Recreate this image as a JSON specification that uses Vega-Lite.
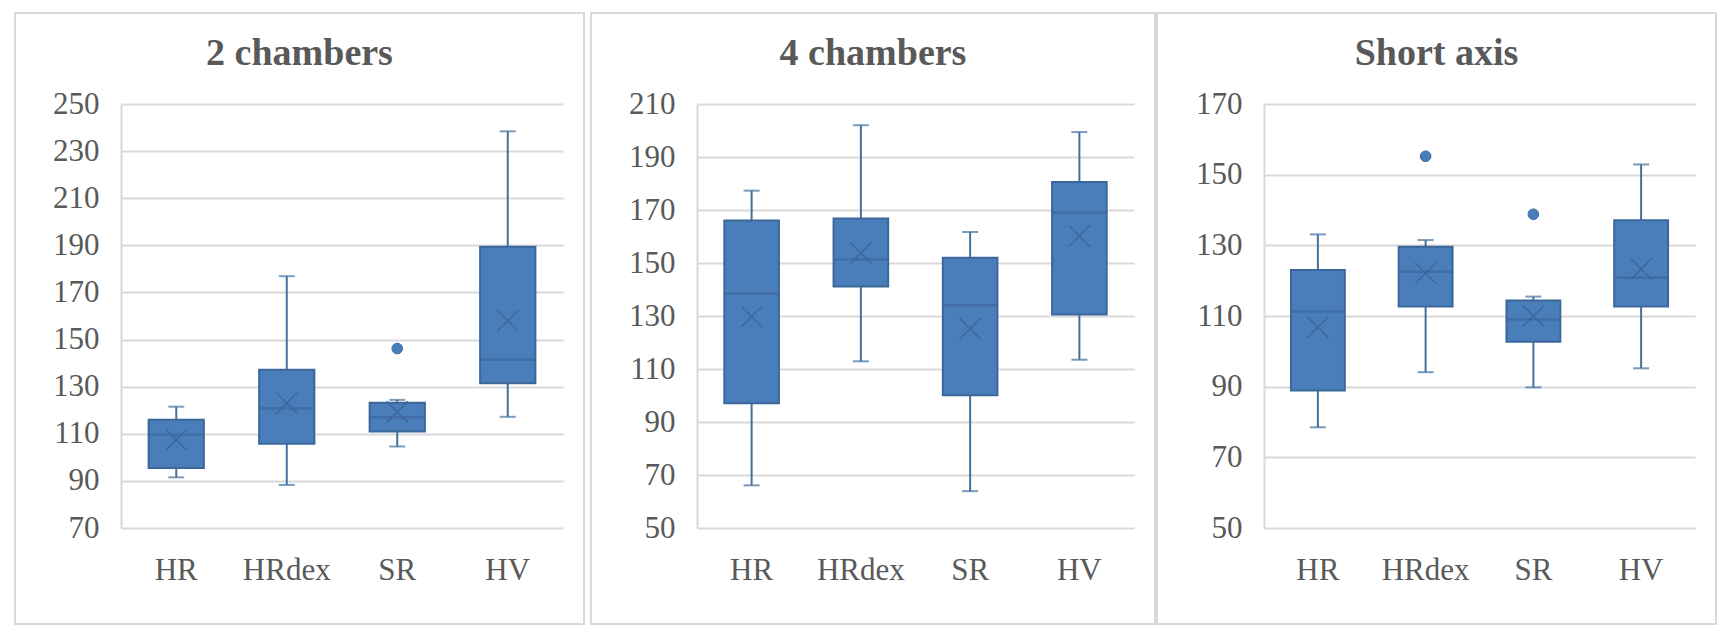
{
  "$schema": "https://vega.github.io/schema/vega-lite/v6.json",
  "background": "white",
  "padding": {"left": 14, "top": 12, "right": 0, "bottom": 0},
  "autosize": {"type": "pad"},
  "config": {
    "view": {"stroke": "#d9d9d9", "strokeWidth": 2},
    "font": "Liberation Serif",
    "title": {"font": "Liberation Serif", "fontSize": 38, "fontWeight": "bold", "color": "#595959", "anchor": "middle", "frame": "group", "offset": -60},
    "axis": {"labelFont": "Liberation Serif", "labelFontSize": 31, "labelColor": "#595959", "ticks": false, "labelBound": false, "labelOverlap": false},
    "axisY": {"domain": true, "domainColor": "#d9d9d9", "domainWidth": 2, "grid": true, "gridColor": "#d9d9d9", "gridWidth": 2, "labelPadding": 22},
    "axisX": {"domain": false, "grid": false, "labelAngle": 0, "labelPadding": 27}
  },
  "datasets": {
    "stats": [
      {"panel": "2 chambers", "group": "HR", "lo": 91.5, "q1": 95.5, "med": 109.6, "q3": 116.0, "hi": 121.5, "mean": 107.5, "outlier": null},
      {"panel": "2 chambers", "group": "HRdex", "lo": 88.3, "q1": 105.8, "med": 120.8, "q3": 137.2, "hi": 176.9, "mean": 123.0, "outlier": null},
      {"panel": "2 chambers", "group": "SR", "lo": 104.6, "q1": 111.0, "med": 117.0, "q3": 123.2, "hi": 124.4, "mean": 119.3, "outlier": 146.2},
      {"panel": "2 chambers", "group": "HV", "lo": 117.2, "q1": 131.5, "med": 141.4, "q3": 189.4, "hi": 238.4, "mean": 158.0, "outlier": null},
      {"panel": "4 chambers", "group": "HR", "lo": 66.1, "q1": 97.1, "med": 138.4, "q3": 166.0, "hi": 177.3, "mean": 129.8, "outlier": null},
      {"panel": "4 chambers", "group": "HRdex", "lo": 112.9, "q1": 141.1, "med": 151.3, "q3": 166.8, "hi": 202.0, "mean": 153.8, "outlier": null},
      {"panel": "4 chambers", "group": "SR", "lo": 63.9, "q1": 100.1, "med": 134.1, "q3": 152.0, "hi": 161.7, "mean": 125.2, "outlier": null},
      {"panel": "4 chambers", "group": "HV", "lo": 113.5, "q1": 130.6, "med": 169.0, "q3": 180.6, "hi": 199.4, "mean": 160.2, "outlier": null},
      {"panel": "Short axis", "group": "HR", "lo": 78.5, "q1": 88.9, "med": 111.3, "q3": 123.0, "hi": 133.1, "mean": 106.8, "outlier": null},
      {"panel": "Short axis", "group": "HRdex", "lo": 94.1, "q1": 112.7, "med": 122.5, "q3": 129.6, "hi": 131.5, "mean": 122.1, "outlier": 155.2},
      {"panel": "Short axis", "group": "SR", "lo": 89.8, "q1": 102.7, "med": 109.0, "q3": 114.4, "hi": 115.5, "mean": 110.0, "outlier": 138.8},
      {"panel": "Short axis", "group": "HV", "lo": 95.2, "q1": 112.7, "med": 120.8, "q3": 137.1, "hi": 152.9, "mean": 123.3, "outlier": null}
    ]
  },
  "spacing": 5,
  "hconcat": [
    {
      "width": 569,
      "height": 611,
      "title": "2 chambers",
      "data": {"name": "stats"},
      "transform": [{"filter": "datum.panel === '2 chambers'"}],
      "encoding": {
        "x": {"field": "group", "type": "nominal", "sort": ["HR", "HRdex", "SR", "HV"], "scale": {"range": [106, 548], "paddingInner": 0, "paddingOuter": 0}, "axis": {"offset": -96, "title": null}}
      },
      "layer": [
        {"mark": {"type": "rule", "color": "#41719c", "strokeWidth": 2},
         "encoding": {"y": {"field": "lo", "type": "quantitative", "scale": {"domain": [70, 250], "range": [515, 91], "nice": false, "zero": false}, "axis": {"offset": -106, "title": null, "values": [70, 90, 110, 130, 150, 170, 190, 210, 230, 250]}}, "y2": {"field": "hi"}}},
        {"mark": {"type": "tick", "color": "#41719c", "size": 16, "thickness": 2}, "encoding": {"y": {"field": "lo", "type": "quantitative", "axis": {"offset": -106, "title": null, "values": [70, 90, 110, 130, 150, 170, 190, 210, 230, 250]}}}},
        {"mark": {"type": "tick", "color": "#41719c", "size": 16, "thickness": 2}, "encoding": {"y": {"field": "hi", "type": "quantitative", "axis": {"offset": -106, "title": null, "values": [70, 90, 110, 130, 150, 170, 190, 210, 230, 250]}}}},
        {"mark": {"type": "bar", "fill": "#4a7ebb", "stroke": "#3c679b", "strokeWidth": 2, "width": {"band": 0.5}}, "encoding": {"y": {"field": "q1", "type": "quantitative", "axis": {"offset": -106, "title": null, "values": [70, 90, 110, 130, 150, 170, 190, 210, 230, 250]}}, "y2": {"field": "q3"}}},
        {"mark": {"type": "tick", "color": "#3c679b", "size": 55, "thickness": 2.5}, "encoding": {"y": {"field": "med", "type": "quantitative", "axis": {"offset": -106, "title": null, "values": [70, 90, 110, 130, 150, 170, 190, 210, 230, 250]}}}},
        {"mark": {"type": "point", "shape": "M-1,-1L1,1M-1,1L1,-1", "filled": false, "stroke": "#3c679b", "strokeWidth": 1.5, "size": 440, "opacity": 1}, "encoding": {"y": {"field": "mean", "type": "quantitative", "axis": {"offset": -106, "title": null, "values": [70, 90, 110, 130, 150, 170, 190, 210, 230, 250]}}}},
        {"transform": [{"filter": "datum.outlier != null"}], "mark": {"type": "point", "shape": "circle", "filled": true, "fill": "#4a7ebb", "stroke": "#3c679b", "strokeWidth": 1, "size": 113, "opacity": 1}, "encoding": {"y": {"field": "outlier", "type": "quantitative", "axis": {"offset": -106, "title": null, "values": [70, 90, 110, 130, 150, 170, 190, 210, 230, 250]}}}}
      ]
    },
    {
      "spacing": 0,
      "hconcat": [
        {
          "width": 564,
          "height": 611,
          "title": "4 chambers",
          "data": {"name": "stats"},
          "transform": [{"filter": "datum.panel === '4 chambers'"}],
          "encoding": {
            "x": {"field": "group", "type": "nominal", "sort": ["HR", "HRdex", "SR", "HV"], "scale": {"range": [106, 543], "paddingInner": 0, "paddingOuter": 0}, "axis": {"offset": -96, "title": null}}
          },
          "layer": [
            {"mark": {"type": "rule", "color": "#41719c", "strokeWidth": 2},
             "encoding": {"y": {"field": "lo", "type": "quantitative", "scale": {"domain": [50, 210], "range": [515, 91], "nice": false, "zero": false}, "axis": {"offset": -106, "title": null, "values": [50, 70, 90, 110, 130, 150, 170, 190, 210]}}, "y2": {"field": "hi"}}},
            {"mark": {"type": "tick", "color": "#41719c", "size": 16, "thickness": 2}, "encoding": {"y": {"field": "lo", "type": "quantitative", "axis": {"offset": -106, "title": null, "values": [50, 70, 90, 110, 130, 150, 170, 190, 210]}}}},
            {"mark": {"type": "tick", "color": "#41719c", "size": 16, "thickness": 2}, "encoding": {"y": {"field": "hi", "type": "quantitative", "axis": {"offset": -106, "title": null, "values": [50, 70, 90, 110, 130, 150, 170, 190, 210]}}}},
            {"mark": {"type": "bar", "fill": "#4a7ebb", "stroke": "#3c679b", "strokeWidth": 2, "width": {"band": 0.5}}, "encoding": {"y": {"field": "q1", "type": "quantitative", "axis": {"offset": -106, "title": null, "values": [50, 70, 90, 110, 130, 150, 170, 190, 210]}}, "y2": {"field": "q3"}}},
            {"mark": {"type": "tick", "color": "#3c679b", "size": 55, "thickness": 2.5}, "encoding": {"y": {"field": "med", "type": "quantitative", "axis": {"offset": -106, "title": null, "values": [50, 70, 90, 110, 130, 150, 170, 190, 210]}}}},
            {"mark": {"type": "point", "shape": "M-1,-1L1,1M-1,1L1,-1", "filled": false, "stroke": "#3c679b", "strokeWidth": 1.5, "size": 440, "opacity": 1}, "encoding": {"y": {"field": "mean", "type": "quantitative", "axis": {"offset": -106, "title": null, "values": [50, 70, 90, 110, 130, 150, 170, 190, 210]}}}},
            {"transform": [{"filter": "datum.outlier != null"}], "mark": {"type": "point", "shape": "circle", "filled": true, "fill": "#4a7ebb", "stroke": "#3c679b", "strokeWidth": 1, "size": 113, "opacity": 1}, "encoding": {"y": {"field": "outlier", "type": "quantitative", "axis": {"offset": -106, "title": null, "values": [50, 70, 90, 110, 130, 150, 170, 190, 210]}}}}
          ]
        },
        {
          "width": 559,
          "height": 611,
          "title": "Short axis",
          "data": {"name": "stats"},
          "transform": [{"filter": "datum.panel === 'Short axis'"}],
          "encoding": {
            "x": {"field": "group", "type": "nominal", "sort": ["HR", "HRdex", "SR", "HV"], "scale": {"range": [107, 538], "paddingInner": 0, "paddingOuter": 0}, "axis": {"offset": -96, "title": null}}
          },
          "layer": [
            {"mark": {"type": "rule", "color": "#41719c", "strokeWidth": 2},
             "encoding": {"y": {"field": "lo", "type": "quantitative", "scale": {"domain": [50, 170], "range": [515, 91], "nice": false, "zero": false}, "axis": {"offset": -107, "title": null, "values": [50, 70, 90, 110, 130, 150, 170]}}, "y2": {"field": "hi"}}},
            {"mark": {"type": "tick", "color": "#41719c", "size": 16, "thickness": 2}, "encoding": {"y": {"field": "lo", "type": "quantitative", "axis": {"offset": -107, "title": null, "values": [50, 70, 90, 110, 130, 150, 170]}}}},
            {"mark": {"type": "tick", "color": "#41719c", "size": 16, "thickness": 2}, "encoding": {"y": {"field": "hi", "type": "quantitative", "axis": {"offset": -107, "title": null, "values": [50, 70, 90, 110, 130, 150, 170]}}}},
            {"mark": {"type": "bar", "fill": "#4a7ebb", "stroke": "#3c679b", "strokeWidth": 2, "width": {"band": 0.5}}, "encoding": {"y": {"field": "q1", "type": "quantitative", "axis": {"offset": -107, "title": null, "values": [50, 70, 90, 110, 130, 150, 170]}}, "y2": {"field": "q3"}}},
            {"mark": {"type": "tick", "color": "#3c679b", "size": 55, "thickness": 2.5}, "encoding": {"y": {"field": "med", "type": "quantitative", "axis": {"offset": -107, "title": null, "values": [50, 70, 90, 110, 130, 150, 170]}}}},
            {"mark": {"type": "point", "shape": "M-1,-1L1,1M-1,1L1,-1", "filled": false, "stroke": "#3c679b", "strokeWidth": 1.5, "size": 440, "opacity": 1}, "encoding": {"y": {"field": "mean", "type": "quantitative", "axis": {"offset": -107, "title": null, "values": [50, 70, 90, 110, 130, 150, 170]}}}},
            {"transform": [{"filter": "datum.outlier != null"}], "mark": {"type": "point", "shape": "circle", "filled": true, "fill": "#4a7ebb", "stroke": "#3c679b", "strokeWidth": 1, "size": 113, "opacity": 1}, "encoding": {"y": {"field": "outlier", "type": "quantitative", "axis": {"offset": -107, "title": null, "values": [50, 70, 90, 110, 130, 150, 170]}}}}
          ]
        }
      ]
    }
  ]
}
